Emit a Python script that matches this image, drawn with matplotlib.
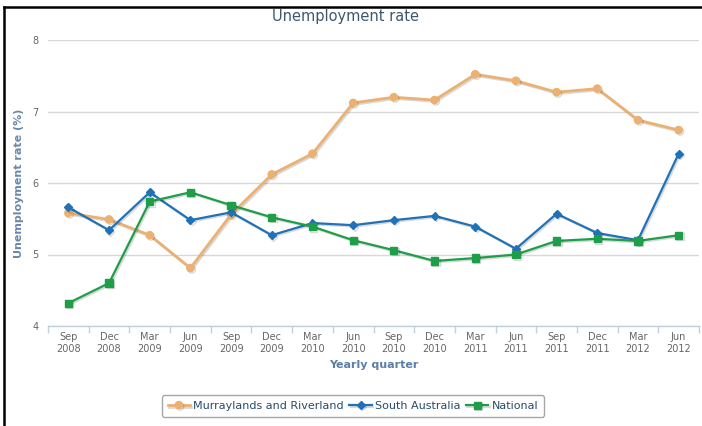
import numpy as np
import matplotlib
matplotlib.use("Agg")
import matplotlib.pyplot as plt
import matplotlib.patheffects as pe
from matplotlib.lines import Line2D

# ---- data ----
quarters = ["Sep\n2008", "Dec\n2008", "Mar\n2009", "Jun\n2009", "Sep\n2009", "Dec\n2009",
            "Mar\n2010", "Jun\n2010", "Sep\n2010", "Dec\n2010", "Mar\n2011", "Jun\n2011",
            "Sep\n2011", "Dec\n2011", "Mar\n2012", "Jun\n2012"]
murraylands = [5.58, 5.49, 5.27, 4.81, 5.56, 6.12, 6.41, 7.12, 7.20, 7.16, 7.52, 7.43, 7.27, 7.32, 6.88, 6.74]
south_aus = [5.66, 5.34, 5.87, 5.48, 5.59, 5.27, 5.44, 5.41, 5.48, 5.54, 5.39, 5.08, 5.57, 5.30, 5.20, 6.41]
national = [4.32, 4.60, 5.74, 5.87, 5.69, 5.52, 5.39, 5.20, 5.06, 4.91, 4.95, 5.00, 5.19, 5.22, 5.19, 5.27]
y_ticks = [4, 5, 6, 7, 8]

W, H = 702, 426
fig = plt.figure(figsize=(W / 100, H / 100), dpi=100)
ax = fig.add_axes([48 / W, 1 - 326 / H, 651 / W, 286 / H])

x = np.arange(len(quarters))
shadow = [pe.SimpleLineShadow(offset=(1, -1), alpha=0.15, shadow_color="k"), pe.Normal()]

ax.plot(x, murraylands, color="#EBB172", lw=2.0, marker="o", ms=5.2,
        label="Murraylands and Riverland", path_effects=shadow, zorder=3)
ax.plot(x, south_aus, color="#1F72B8", lw=1.6, marker="D", ms=4,
        label="South Australia", path_effects=shadow, zorder=4)
ax.plot(x, national, color="#1E9E48", lw=1.6, marker="s", ms=5.2,
        label="National", path_effects=shadow, zorder=5)

ax.set_xlim(-0.5, 15.5)
ax.set_ylim(4, 8)
ax.set_yticks(y_ticks)
ax.set_xticks(x)
ax.set_xticklabels(quarters, fontsize=7, color="#666666", linespacing=1.35)
ax.set_xticks(np.arange(-0.5, 16, 1), minor=True)
ax.tick_params(axis="x", which="major", length=0, pad=4)
ax.tick_params(axis="x", which="minor", length=5, color="#C0D0E0", width=1)
ax.tick_params(axis="y", length=0, labelsize=7, labelcolor="#666666", pad=7)

ax.grid(axis="y", color="#D8D8D8", lw=1)
ax.set_axisbelow(True)
for s in ["top", "right", "left"]:
    ax.spines[s].set_visible(False)
ax.spines["bottom"].set_color("#C0D0E0")
ax.spines["bottom"].set_linewidth(1)

ax.set_xlabel("Yearly quarter", fontsize=8, fontweight="bold", color="#5B7FA6", labelpad=4)
ax.set_ylabel("Unemployment rate (%)", fontsize=8, fontweight="bold", color="#6A88AA", labelpad=6)
fig.text(345 / W, 1 - 17 / H, "Unemployment rate", ha="center", va="center",
         fontsize=10.5, color="#3E576F")

leg = fig.legend(loc="center", bbox_to_anchor=(353 / W, 1 - 406 / H), ncol=3,
                 fontsize=8, frameon=True, fancybox=True, handlelength=2,
                 columnspacing=0.5, handletextpad=0.3, borderpad=0.5)
leg.get_frame().set_edgecolor("#909090")
leg.get_frame().set_linewidth(1)
for t in leg.get_texts():
    t.set_color("#274B6D")

# screenshot frame
fig.add_artist(Line2D([4 / W, 4 / W], [0, 1 - 7 / H], color="black", lw=1.8))
fig.add_artist(Line2D([4 / W, 1], [1 - 7 / H, 1 - 7 / H], color="black", lw=1.8))

fig.savefig("out.png", dpi=100)
